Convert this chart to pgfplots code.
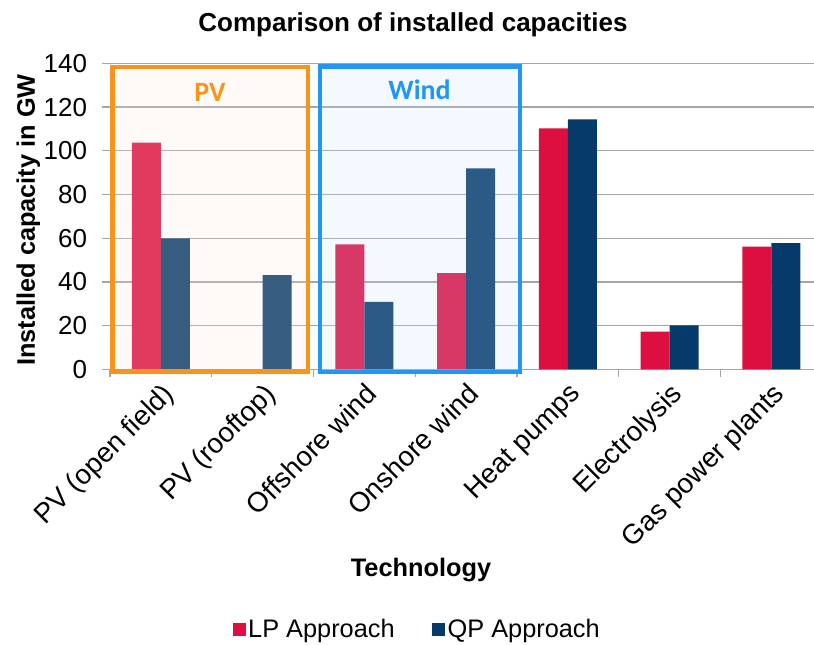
\documentclass[border=0pt]{standalone}
\usepackage{pgfplots}
\pgfplotsset{compat=1.18}
\usepackage{fontspec}
\setmainfont{Liberation Sans}
\newfontfamily\carlito{Carlito}
\definecolor{lpc}{RGB}{220,15,64}
\definecolor{qpc}{RGB}{5,58,106}
\definecolor{orangec}{RGB}{247,148,29}
\definecolor{bluec}{RGB}{33,150,243}
\definecolor{pvfill}{RGB}{250,230,214}
\definecolor{windfill}{RGB}{200,220,255}
\definecolor{gridc}{RGB}{165,165,165}
\pgfplotsset{sqlegend/.style={legend image code/.code={\fill[##1] (0pt,-4.875pt) rectangle (9.75pt,4.875pt);}}}
\begin{document}
\begin{tikzpicture}
\begin{axis}[
  name=ax, at={(0pt,0pt)}, anchor=south west,
  scale only axis, width=528pt, height=229.5pt,
  ybar=0pt, bar width=21.75pt,
  xmin=-0.5, xmax=6.42, ymin=0, ymax=140,
  clip=false,
  axis x line*=bottom, axis y line*=left,
  y axis line style={draw=none},
  x axis line style={gridc, line width=0.9pt},
  tick align=outside,
  xtick={0,1,2,3,4,5,6},
  xticklabels={PV (open field), PV (rooftop), Offshore wind, Onshore wind, Heat pumps, Electrolysis, Gas power plants},
  major x tick style={draw=none},
  minor xtick={-0.5,0.5,1.5,2.5,3.5,4.5,5.5},
  minor x tick style={gridc, line width=0.9pt},
  minor tick length=6pt,
  ytick={0,20,...,140},
  yticklabels={},
  ytick style={gridc, line width=0.9pt},
  major tick length=6pt,
  ymajorgrids, grid style={gridc, line width=0.9pt},
  /pgf/number format/assume math mode=true,
  xticklabel style={font=\fontsize{20.8}{24}\selectfont, rotate=45, anchor=north east, inner sep=2pt},
  legend style={at={(0.4368,-0.849)}, anchor=center, draw=none, fill=none,
    legend columns=2, font=\fontsize{19}{22}\selectfont,
    /tikz/every even column/.append style={column sep=26pt}},
]
\addplot[fill=lpc, draw=none, sqlegend] coordinates {(0,103.7) (1,0) (2,57.2) (3,44.0) (4,110.2) (5,17.2) (6,56.1)};
\addplot[fill=qpc, draw=none, sqlegend] coordinates {(0,59.9) (1,43.1) (2,30.9) (3,91.9) (4,114.4) (5,20.1) (6,57.8)};
\legend{LP Approach, QP Approach}
\pgfplotsinvokeforeach{0,20,40,60,80,100,120,140}{
  \node[anchor=east, inner sep=0pt, font=\fontsize{19.5}{22}\selectfont] at ([xshift=-17pt]axis cs:-0.5,#1) {#1};
}
\draw[draw=orangec, line width=3.4pt, fill=pvfill, fill opacity=0.2] (axis cs:-0.475,-1) rectangle (axis cs:1.447,138.3);
\draw[draw=bluec, line width=3.4pt, fill=windfill, fill opacity=0.2] (axis cs:1.565,-1.2) rectangle (axis cs:3.53,138.6);
\node[text=orangec, font=\carlito\bfseries\fontsize{21}{24}\selectfont] at (axis cs:0.483,126.9) {PV};
\node[text=bluec, font=\carlito\bfseries\fontsize{21}{24}\selectfont] at (axis cs:2.543,127.8) {Wind};
\end{axis}
\node[anchor=base, font=\bfseries\fontsize{19.5}{23}\selectfont] at (227.25pt,253.2pt) {Comparison of installed capacities};
\node[rotate=90, anchor=base, font=\bfseries\fontsize{19}{22}\selectfont] at (-56.25pt,112pt) {Installed capacity in GW};
\node[anchor=base, font=\bfseries\fontsize{19}{22}\selectfont] at (233.25pt,-155.6pt) {Technology};
\pgfresetboundingbox
\path (-82.5pt,-206pt) rectangle (528pt,277pt);
\end{tikzpicture}
\end{document}
